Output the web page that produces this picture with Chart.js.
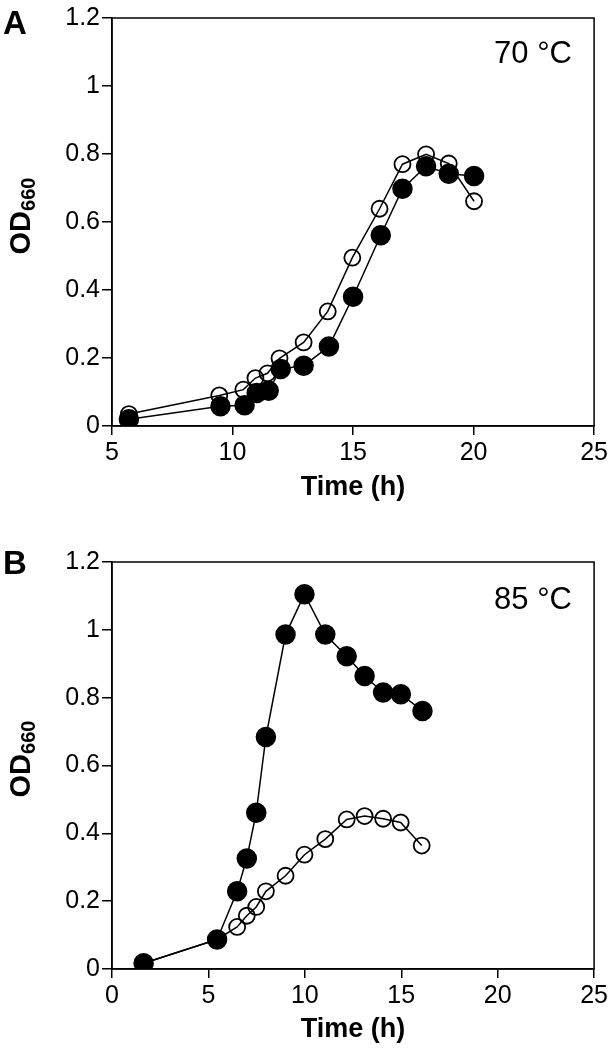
<!DOCTYPE html>
<html>
<head>
<meta charset="utf-8">
<script src="https://cdn.jsdelivr.net/npm/chart.js@4/dist/chart.umd.min.js"></script>
<style>
  body { margin: 0; background: #fff; }
  #wrap { position: relative; width: 611px; height: 1050px; font-family: "Liberation Sans", Arial, sans-serif; color: #000; }
  .box { position: absolute; left: 0; width: 611px; height: 525px; }
  .panel { position: absolute; font-weight: bold; font-size: 33px; line-height: 33px; }
  .temp { position: absolute; font-size: 31px; line-height: 31px; white-space: nowrap; }
  .ylab { position: absolute; font-weight: bold; font-size: 29px; white-space: nowrap; transform: translate(-50%, -50%) rotate(-90deg); }
  .ylab sub { font-size: 20px; vertical-align: -0.25em; }
</style>
</head>
<body>
<div id="wrap">
  <div class="box" style="top:0"><canvas id="chartA"></canvas></div>
  <div class="box" style="top:525px"><canvas id="chartB"></canvas></div>
  <div class="panel" style="left:3px;top:6px">A</div>
  <div class="panel" style="left:3px;top:546px">B</div>
  <div class="temp" style="right:39px;top:37px">70 °C</div>
  <div class="temp" style="right:39px;top:583px">85 °C</div>
  <div class="ylab" style="left:22px;top:216px">OD<sub>660</sub></div>
  <div class="ylab" style="left:22px;top:759px">OD<sub>660</sub></div>
</div>
<script>
// panel A, 70 °C
var timeA_filled = [5.7, 9.5, 10.5, 11.0, 11.5, 12.0, 12.95, 14.0, 15.0, 16.15, 17.05, 18.03, 18.97, 20.02];
var odA_filled = [0.02, 0.058, 0.061, 0.097, 0.104, 0.168, 0.177, 0.234, 0.38, 0.561, 0.698, 0.764, 0.742, 0.735];
var timeA_open = [5.7, 9.45, 10.45, 10.95, 11.45, 11.95, 12.95, 13.95, 14.97, 16.1, 17.05, 18.03, 18.97, 20.02];
var odA_open = [0.035, 0.09, 0.107, 0.141, 0.155, 0.199, 0.246, 0.337, 0.495, 0.639, 0.77, 0.799, 0.772, 0.661];

// panel B, 85 °C
var timeB_filled = [1.64, 5.45, 6.49, 6.99, 7.48, 7.98, 9.0, 9.98, 11.06, 12.17, 13.1, 14.06, 14.98, 16.1];
var odB_filled = [0.017, 0.087, 0.229, 0.326, 0.461, 0.684, 0.986, 1.105, 0.986, 0.922, 0.864, 0.815, 0.81, 0.761];
var timeB_open = [1.64, 5.45, 6.49, 6.99, 7.48, 7.98, 9.0, 9.98, 11.06, 12.17, 13.1, 14.06, 14.97, 16.06];
var odB_open = [0.017, 0.087, 0.124, 0.157, 0.183, 0.229, 0.275, 0.337, 0.383, 0.441, 0.451, 0.443, 0.432, 0.364];

var xTicksA = [5, 10, 15, 20, 25];
var xTicksB = [0, 5, 10, 15, 20, 25];
var yTicks = [0, 0.2, 0.4, 0.6, 0.8, 1, 1.2];
var xTitle = 'Time (h)';

function toPoints(xs, ys) {
  return xs.map(function (x, i) { return { x: x, y: ys[i] }; });
}

var framePlugin = {
  id: 'frame',
  beforeDatasetsDraw: function (chart) {
    var a = chart.chartArea;
    var ctx = chart.ctx;
    ctx.save();
    ctx.strokeStyle = '#000';
    ctx.lineWidth = 1.5;
    ctx.strokeRect(a.left, a.top, a.right - a.left, a.bottom - a.top);
    ctx.restore();
  }
};

function makeConfig(filled, open, xTicks, padTop, xHeight, titlePad) {
  return {
    type: 'scatter',
    data: {
      datasets: [{
        label: 'filled',
        data: filled,
        showLine: true,
        borderColor: '#000',
        borderWidth: 1.5,
        pointRadius: 9.5,
        pointBackgroundColor: '#000',
        pointBorderColor: '#000',
        pointBorderWidth: 1.5
      },
      {
        label: 'open',
        data: open,
        showLine: true,
        borderColor: '#000',
        borderWidth: 1.5,
        pointRadius: 8,
        pointBackgroundColor: 'rgba(0,0,0,0)',
        pointBorderColor: '#000',
        pointBorderWidth: 1.8
      }]
    },
    options: {
      responsive: true,
      maintainAspectRatio: false,
      animation: false,
      layout: { padding: { top: padTop, right: 13, bottom: 0, left: 0 } },
      plugins: { legend: { display: false }, tooltip: { enabled: false } },
      scales: {
        x: {
          type: 'linear',
          min: xTicks[0],
          max: xTicks[xTicks.length - 1],
          afterBuildTicks: function (s) { s.ticks = xTicks.map(function (v) { return { value: v }; }); },
          afterFit: function (s) { s.height = xHeight; },
          grid: { drawOnChartArea: false, color: '#000', lineWidth: 1.5, tickLength: 9 },
          border: { color: '#000', width: 1.5 },
          ticks: {
            color: '#000',
            padding: 3,
            font: { family: '"Liberation Sans", Arial, sans-serif', size: 25 },
            callback: function (v) { return String(v); }
          },
          title: {
            display: true,
            text: xTitle,
            color: '#000',
            padding: { top: 0, bottom: titlePad },
            font: { family: '"Liberation Sans", Arial, sans-serif', size: 27, weight: 'bold' }
          }
        },
        y: {
          type: 'linear',
          min: 0,
          max: 1.2,
          afterBuildTicks: function (s) { s.ticks = yTicks.map(function (v) { return { value: v }; }); },
          afterFit: function (s) { s.width = 112; },
          grid: { drawOnChartArea: false, color: '#000', lineWidth: 1.5, tickLength: 10 },
          border: { color: '#000', width: 1.5 },
          ticks: {
            color: '#000',
            padding: 2,
            font: { family: '"Liberation Sans", Arial, sans-serif', size: 25 },
            callback: function (v) { return String(v); }
          }
        }
      }
    },
    plugins: [framePlugin]
  };
}

var chartA = new Chart(document.getElementById('chartA').getContext('2d'),
  makeConfig(toPoints(timeA_filled, odA_filled), toPoints(timeA_open, odA_open), xTicksA, 18, 99, 21));
var chartB = new Chart(document.getElementById('chartB').getContext('2d'),
  makeConfig(toPoints(timeB_filled, odB_filled), toPoints(timeB_open, odB_open), xTicksB, 37, 81, 4));
</script>
</body>
</html>
